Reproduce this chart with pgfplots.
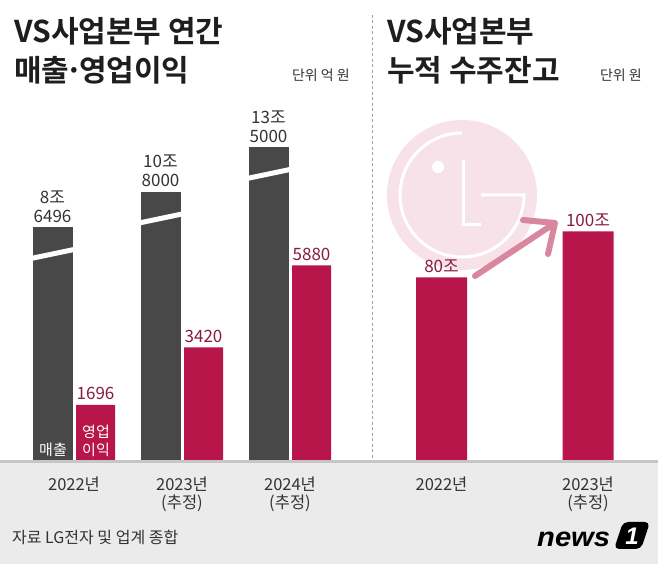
\documentclass[border=0pt]{standalone}
\usepackage{pgfplots}
\usepackage{pgfplotstable}
\pgfplotsset{compat=1.18}
\usepackage{fontspec}
\setmainfont{Noto Sans CJK KR}[BoldFont={Noto Sans CJK KR Bold}]
\newfontfamily\logofont{Liberation Sans}
\definecolor{darkbar}{HTML}{484848}
\definecolor{redbar}{HTML}{B8164B}
\definecolor{redlab}{HTML}{861C43}
\definecolor{darklab}{HTML}{333333}
\definecolor{band}{HTML}{EBEBEB}
\definecolor{bandline}{HTML}{C6C6C6}
\definecolor{lgpink}{HTML}{F8E2E9}
\definecolor{arrowpink}{HTML}{D9879F}
\definecolor{titlecol}{HTML}{1E1E1E}

% sales (억 원); the bars are broken, "hidden" is the part below the break
\pgfplotstableread{
x hidden value label
0 -55374 86496 {8조\\6496}
1 -55374 108000 {10조\\8000}
2 -55374 135000 {13조\\5000}
}\salesdata

\pgfplotsset{
  chartbase/.style={
    scale only axis, anchor=south west, clip=false,
    axis line style={draw=none}, major tick length=0pt,
    ytick=\empty, xtick=\empty,
  },
  xlab/.style={xticklabel style={font=\fontsize{16.5}{18.5}\selectfont, text=darklab,
    align=center, anchor=north, inner sep=0pt, yshift=-15pt}},
}

\begin{document}
\begin{tikzpicture}[x=1pt,y=1pt]
\fill[white] (0,0) rectangle (658,564);
\fill[band] (0,0) rectangle (658,101.5);

% faint LG logo
\fill[lgpink] (462,369) circle[radius=75];
\draw[white, line width=3pt] (462,431) arc[start angle=90, end angle=360, radius=62] -- (481,369);
\draw[white, line width=3pt] (463,404) -- (463,339) -- (481,339);
\fill[white] (438,397) circle[radius=6];

% separator
\draw[gray!75, line width=0.7pt, dash pattern=on 3pt off 2.5pt] (372,549) -- (372,103);

% titles
\node[anchor=base west, inner sep=0pt, font=\bfseries\fontsize{30}{34}\selectfont, text=titlecol] at (14,521) {VS사업본부 연간};
\node[anchor=base west, inner sep=0pt, font=\bfseries\fontsize{30}{34}\selectfont, text=titlecol] at (14,482) {매출\kern-4pt·\kern-4pt영업이익};
\node[anchor=base east, inner sep=0pt, font=\fontsize{14}{16}\selectfont, text=darklab] at (350,483) {단위 억 원};
\node[anchor=base west, inner sep=0pt, font=\bfseries\fontsize{30}{34}\selectfont, text=titlecol] at (387,521) {VS사업본부};
\node[anchor=base west, inner sep=0pt, font=\bfseries\fontsize{30}{34}\selectfont, text=titlecol] at (387,482) {누적 수주잔고};
\node[anchor=base east, inner sep=0pt, font=\fontsize{14}{16}\selectfont, text=darklab] at (642,483) {단위 원};

% sales (broken bars)
\begin{axis}[chartbase, at={(20pt,102.5pt)}, width=324pt, height=329.88pt,
  xmin=-0.5, xmax=2.5, ymin=-55374, ymax=144626,
  ybar, bar width=39pt]
\addplot[fill=darkbar, draw=darkbar, line width=0.3pt, bar shift=-21.5pt] table[x=x, y=hidden] {\salesdata};
\addplot[fill=darkbar, draw=darkbar, line width=0.3pt, bar shift=-21.5pt,
  nodes near coords, point meta=explicit symbolic,
  nodes near coords style={font=\fontsize{17}{19}\selectfont, text=darklab, align=center,
    anchor=south, inner sep=0pt, yshift=5pt}]
  table[x=x, y=value, meta=label] {\salesdata};
\draw[white, line width=5pt] (axis cs:0,86496) ++(-43pt,-31pt) -- ++(43pt,9pt);
\draw[white, line width=5pt] (axis cs:1,108000) ++(-43pt,-31pt) -- ++(43pt,9pt);
\draw[white, line width=5pt] (axis cs:2,135000) ++(-43pt,-31pt) -- ++(43pt,9pt);
\end{axis}

% operating profit
\begin{axis}[chartbase, xlab, at={(20pt,102.5pt)}, width=324pt, height=200pt,
  xmin=-0.5, xmax=2.5, ymin=0, ymax=6000,
  ybar, bar width=39pt,
  xtick={0,1,2}, xticklabels={2022년,{2023년\\(추정)},{2024년\\(추정)}}]
\addplot[fill=redbar, draw=none, bar shift=21.5pt, nodes near coords, point meta=explicit symbolic,
  nodes near coords style={font=\fontsize{17}{19}\selectfont, text=redlab,
    anchor=south, inner sep=0pt, yshift=5pt}]
  coordinates {(0,1696) [1696] (1,3420) [3420] (2,5880) [5880]};
\end{axis}

% order backlog (조 원)
\begin{axis}[chartbase, xlab, at={(368.25pt,102.5pt)}, width=293pt, height=230pt,
  xmin=-0.5, xmax=1.5, ymin=0, ymax=100,
  ybar, bar width=51pt,
  xtick={0,1}, xticklabels={2022년,{2023년\\(추정)}}]
\addplot[fill=redbar, draw=none, bar shift=0pt, nodes near coords, point meta=explicit symbolic,
  nodes near coords style={font=\fontsize{17}{19}\selectfont, text=redlab,
    anchor=south, inner sep=0pt, yshift=5pt}]
  coordinates {(0,80) [80조] (1,100) [100조]};
\end{axis}

% baseline
\fill[bandline] (0,100.5) rectangle (658,103.5);

% in-bar labels
\node[font=\fontsize{15}{18}\selectfont, text=white, inner sep=0pt] at (53,114) {매출};
\node[font=\fontsize{15}{18}\selectfont, text=white, inner sep=0pt, align=center] at (96,123) {영업\\이익};

% arrow
\draw[arrowpink, line width=6pt, line cap=round] (475,288) -- (552,339);
\draw[arrowpink, line width=6pt, line cap=round, line join=round] (523,344) -- (555,341) -- (548,310);

% source
\node[anchor=base west, inner sep=0pt, font=\fontsize{16}{18}\selectfont, text=darklab] at (12,20) {자료 LG전자 및 업계 종합};

% news1 logo
\node[anchor=base west, inner sep=0pt, font=\logofont\bfseries\itshape\fontsize{27}{30}\selectfont] at (537,17) {\scalebox{1.08}[1]{news}};
\fill[black, rounded corners=5pt] (614,15) -- (641,15) -- (650,42) -- (623,42) -- cycle;
\node[inner sep=0pt, text=white, font=\logofont\bfseries\itshape\fontsize{24}{26}\selectfont] at (632,28) {1};

\pgfresetboundingbox
\useasboundingbox (0,0) rectangle (658,564);
\end{tikzpicture}
\end{document}
